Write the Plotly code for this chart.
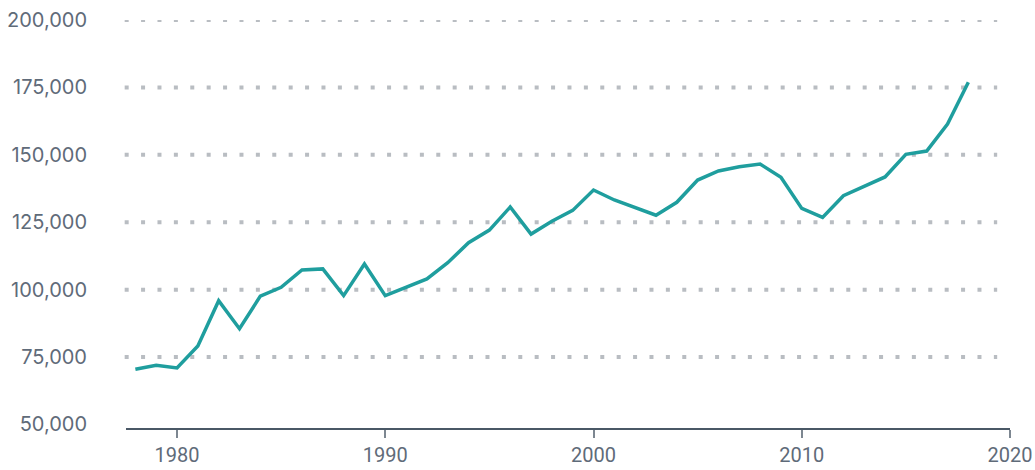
import plotly.graph_objects as go

years = list(range(1978, 2019))
values = [70500, 72000, 71000, 79100, 95900, 85500, 97600, 100900, 107300, 107700,
          97800, 109500, 97800, 100900, 104000, 110000, 117400, 122100, 130650, 120600,
          125350, 129400, 136950, 133250, 130300, 127600, 132400, 140650, 144000, 145600,
          146600, 141650, 130150, 126800, 134850, 138400, 141800, 150200, 151400, 161400,
          176900]

y_ticks = [50000, 75000, 100000, 125000, 150000, 175000, 200000]
y_tick_labels = ["50,000", "75,000", "100,000", "125,000", "150,000", "175,000", "200,000"]
x_ticks = [1980, 1990, 2000, 2010, 2020]
x_tick_labels = ["1980", "1990", "2000", "2010", "2020"]

LINE = "#1f9e9e"
GRID = "#b9bdc2"
TEXT = "#5f6b79"
AXIS = "#4a5866"
TICK = "#7d8791"
FONT = "Inter"
XFONT = "Roboto"

fig = go.Figure()
fig.add_trace(go.Scatter(x=years, y=values, mode="lines",
                         line=dict(color=LINE, width=3.5), hoverinfo="skip"))

shapes = []
for v in y_ticks[1:]:
    shapes.append(dict(type="line", xref="paper", yref="y",
                       x0=-0.0015, x1=0.9855, y0=v, y1=v,
                       line=dict(color=GRID, width=4, dash="4px,12.4px"),
                       layer="below"))

fig.update_layout(
    width=1035, height=470,
    margin=dict(l=126, r=24.5, t=20, b=42),
    paper_bgcolor="white", plot_bgcolor="white",
    showlegend=False,
    font=dict(family=FONT, size=20, color=TEXT),
    shapes=shapes,
    xaxis=dict(range=[1977.55, 2020], tickvals=x_ticks, ticktext=x_tick_labels,
               showgrid=False, zeroline=False, showline=True, linecolor=AXIS, linewidth=2,
               ticks="outside", ticklen=8, tickwidth=2, tickcolor=TICK,
               ticklabeloverflow="allow",
               tickfont=dict(family=XFONT, size=20, color=TEXT), automargin=False),
    yaxis=dict(range=[48700, 200000], tickvals=y_ticks, ticktext=y_tick_labels,
               showgrid=False, zeroline=False, showline=False, ticks="",
               ticklabelstandoff=38,
               tickfont=dict(family=FONT, size=20, color=TEXT), automargin=False),
)

fig.write_html("out.html",
               config={"displayModeBar": False, "staticPlot": True},
               post_script="document.body.style.margin='0';document.body.style.overflow='hidden';")
